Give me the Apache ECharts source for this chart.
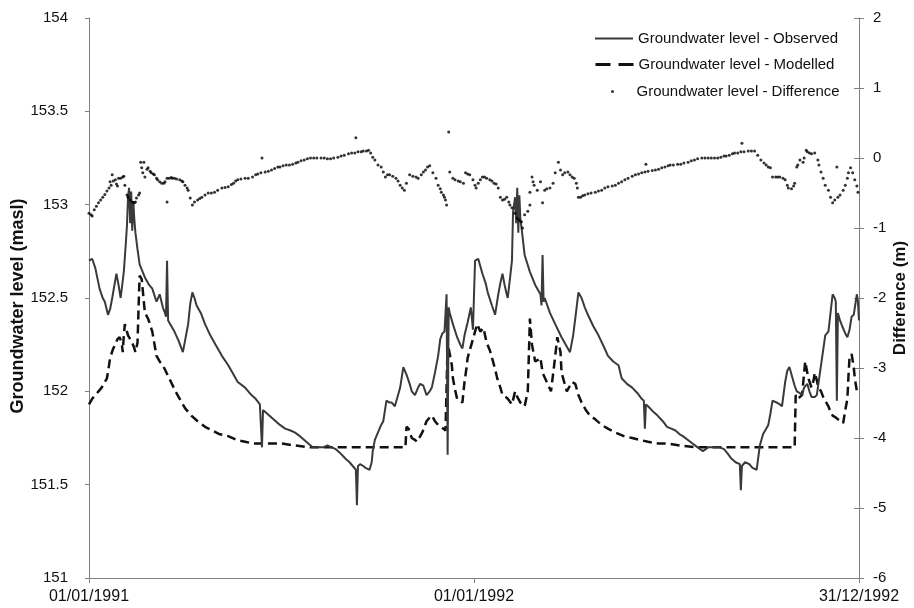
<!DOCTYPE html>
<html>
<head>
<meta charset="utf-8">
<script src="https://cdn.jsdelivr.net/npm/echarts@6/dist/echarts.min.js"></script>
<style>
  html, body { margin: 0; padding: 0; background: #ffffff; }
  #chart { width: 914px; height: 608px; }
</style>
</head>
<body>
<div id="chart"></div>
<script>
// Days are counted from 01/01/1991 (day 0) to 31/12/1992 (day 730).
const xTickDays = [0, 365, 730];
const xTickLabels = ['01/01/1991', '01/01/1992', '31/12/1992'];

// Observed groundwater level (masl)
const obsDay = [0,3,6,10,13,15,18,20,22,26,28,30,33,35,36,37,38,39,40,41,42,43,44,46,48,53,57,60,64,67,70,72,73,74,75,78,81,85,89,92,94,96,98,100,102,106,110,115,120,126,132,137,141,148,154,158,162,163,164,165,169,173,177,181,186,191,195,200,206,212,217,222,226,230,234,238,243,247,250,253,254,255,257,260,262,266,268,269,271,274,277,279,282,285,287,290,293,295,298,301,304,306,309,312,314,317,320,323,325,328,331,333,335,337,339,340,341,342,345,349,352,354,356,359,362,364,366,369,373,376,378,382,385,388,390,392,394,396,397,399,401,402,404,405,406,407,408,409,410,412,413,418,423,428,429,430,431,432,437,442,448,452,456,459,461,464,467,470,473,478,483,488,492,497,502,505,510,515,520,524,526,527,528,530,535,539,544,548,552,556,560,563,570,577,582,587,592,598,602,605,609,613,617,618,619,622,626,629,633,636,639,642,644,646,648,652,655,657,660,662,664,667,669,671,674,676,678,681,683,685,688,690,693,696,698,701,703,705,707,708,709,710,712,714,717,719,721,723,725,726,728,729,730];
const obsLevel = [152.70,152.71,152.66,152.55,152.50,152.48,152.41,152.44,152.50,152.63,152.57,152.50,152.64,152.80,152.89,153.04,153.09,152.90,153.07,152.86,153.02,152.92,152.85,152.76,152.68,152.61,152.57,152.55,152.48,152.52,152.45,152.42,152.40,152.70,152.38,152.35,152.32,152.27,152.21,152.30,152.36,152.47,152.53,152.50,152.46,152.42,152.36,152.30,152.25,152.19,152.14,152.09,152.05,152.02,151.98,151.96,151.93,151.92,151.70,151.90,151.88,151.86,151.84,151.82,151.80,151.79,151.78,151.76,151.73,151.70,151.70,151.70,151.71,151.70,151.69,151.67,151.64,151.62,151.60,151.58,151.39,151.60,151.61,151.60,151.59,151.58,151.62,151.68,151.74,151.78,151.82,151.84,151.95,151.94,151.94,151.92,151.98,152.02,152.13,152.09,152.04,152.00,151.98,152.02,152.04,152.03,151.98,152.00,152.02,152.10,152.19,152.28,152.31,152.32,152.52,151.66,152.45,152.42,152.36,152.29,152.25,152.23,152.30,152.37,152.45,152.33,152.70,152.71,152.63,152.58,152.53,152.46,152.41,152.52,152.58,152.63,152.57,152.52,152.50,152.60,152.70,152.96,153.04,152.90,153.09,152.85,153.05,152.92,152.88,152.78,152.73,152.64,152.57,152.52,152.46,152.73,152.48,152.50,152.42,152.36,152.29,152.25,152.21,152.30,152.39,152.53,152.50,152.45,152.41,152.35,152.30,152.24,152.19,152.16,152.14,152.07,152.04,152.02,151.99,151.96,151.95,151.80,151.93,151.92,151.89,151.87,151.84,151.81,151.80,151.79,151.77,151.76,151.73,151.70,151.68,151.70,151.70,151.70,151.69,151.67,151.64,151.62,151.61,151.47,151.60,151.62,151.61,151.59,151.58,151.71,151.77,151.80,151.82,151.88,151.95,151.94,151.93,151.92,152.05,152.11,152.13,152.07,152.03,152.00,151.99,151.98,152.02,152.04,152.00,151.97,151.97,151.98,152.10,152.22,152.30,152.32,152.42,152.52,152.50,152.48,151.95,152.42,152.38,152.35,152.31,152.29,152.33,152.40,152.41,152.42,152.52,152.48,152.38];

// Modelled groundwater level (masl)
const modDay = [0,3,6,9,12,15,17,19,20,23,25,27,29,31,32,33,34,36,37,39,41,43,44,46,47,48,50,51,53,56,60,64,67,70,76,82,86,91,97,103,110,117,124,132,140,148,156,164,173,183,195,210,240,270,300,301,303,306,309,311,314,316,318,320,323,325,328,331,333,336,338,339,340,342,344,345,347,349,352,354,356,358,359,361,363,366,368,371,374,377,380,382,385,387,390,392,395,397,401,404,406,409,413,416,418,420,423,426,428,430,434,438,441,444,447,448,451,453,456,458,461,464,467,471,475,480,486,492,499,507,515,522,530,540,549,560,575,600,630,669,670,672,674,676,678,679,681,682,685,687,688,690,691,694,696,699,701,703,705,708,710,713,715,717,719,720,721,723,724,725,726,728];
const modLevel = [151.93,151.96,151.98,152.00,152.02,152.05,152.07,152.14,152.18,152.23,152.25,152.28,152.29,152.26,152.21,152.30,152.36,152.32,152.30,152.28,152.26,152.23,152.21,152.26,152.45,152.62,152.60,152.59,152.42,152.39,152.32,152.19,152.16,152.14,152.07,152.00,151.96,151.91,151.87,151.84,151.81,151.79,151.77,151.76,151.74,151.73,151.72,151.72,151.72,151.72,151.71,151.70,151.70,151.70,151.70,151.81,151.80,151.75,151.74,151.73,151.76,151.78,151.81,151.84,151.86,151.87,151.84,151.82,151.81,151.80,151.79,151.78,152.26,152.20,152.14,152.07,152.01,151.96,151.95,151.94,152.05,152.13,152.18,152.22,152.26,152.32,152.36,152.32,152.34,152.26,152.22,152.18,152.12,152.07,152.02,151.98,151.97,151.96,151.93,152.00,151.97,151.94,151.92,152.00,152.39,152.25,152.16,152.17,152.18,152.10,152.05,152.00,152.14,152.29,152.21,152.10,152.04,152.00,152.03,152.05,152.04,151.98,151.94,151.90,151.87,151.85,151.82,151.80,151.78,151.76,151.75,151.74,151.73,151.72,151.72,151.71,151.70,151.70,151.70,151.70,151.98,151.96,151.97,151.98,152.10,152.16,152.10,152.07,152.02,152.06,152.10,152.06,152.03,152.00,151.97,151.94,151.92,151.89,151.87,151.86,151.85,151.84,151.83,151.90,151.96,152.08,152.18,152.20,152.19,152.13,152.07,152.00];

// Difference between modelled and observed level (m), right axis
const diffDay = [0,2,3,5,7,9,11,13,15,17,19,20,21,22,23,25,26,27,28,30,32,33,34,36,37,39,41,43,44,45,47,48,49,50,51,52,53,55,56,58,59,61,62,64,65,67,69,71,72,74,74,76,78,79,81,83,86,88,89,91,93,94,96,98,100,103,105,107,110,113,116,119,122,126,129,132,135,137,139,141,144,148,151,155,158,160,163,164,167,170,173,176,179,181,184,187,190,193,196,198,201,204,207,210,213,216,220,223,226,229,232,236,239,242,246,249,252,253,255,258,260,263,265,267,269,271,274,277,279,281,283,285,288,291,293,295,297,299,301,304,307,310,312,315,317,319,321,323,326,329,331,333,334,336,337,338,339,341,342,345,347,350,352,355,357,359,361,364,366,367,369,371,373,375,377,380,382,384,386,388,390,392,394,396,398,399,401,404,406,408,410,411,413,416,418,418,420,421,422,425,428,430,432,434,437,440,442,445,447,449,451,454,456,458,460,462,463,464,466,468,470,473,476,480,483,486,489,492,496,499,502,505,508,511,515,518,521,524,527,528,530,534,537,540,543,546,549,551,554,558,561,564,568,571,574,577,581,584,587,590,593,596,599,602,604,607,610,612,615,618,619,621,625,628,631,634,637,640,642,644,646,648,651,653,655,658,660,662,663,666,668,669,671,672,674,677,678,680,681,683,685,688,691,692,694,696,698,701,703,705,707,709,710,712,715,717,719,720,722,724,726,728,729];
const diffValue = [-0.79,-0.81,-0.83,-0.74,-0.69,-0.64,-0.60,-0.56,-0.52,-0.47,-0.43,-0.34,-0.39,-0.24,-0.33,-0.31,-0.37,-0.40,-0.29,-0.29,-0.27,-0.26,-0.39,-0.53,-0.56,-0.60,-0.63,-0.64,-0.63,-0.57,-0.53,-0.50,-0.06,-0.14,-0.21,-0.06,-0.27,-0.16,-0.14,-0.19,-0.21,-0.23,-0.24,-0.29,-0.31,-0.34,-0.36,-0.36,-0.34,-0.29,-0.63,-0.29,-0.28,-0.29,-0.29,-0.30,-0.31,-0.33,-0.34,-0.39,-0.43,-0.46,-0.57,-0.67,-0.63,-0.60,-0.58,-0.56,-0.53,-0.50,-0.50,-0.49,-0.46,-0.43,-0.42,-0.41,-0.38,-0.36,-0.33,-0.31,-0.30,-0.29,-0.29,-0.27,-0.24,-0.23,-0.21,0.00,-0.20,-0.19,-0.17,-0.15,-0.13,-0.13,-0.11,-0.10,-0.10,-0.09,-0.07,-0.06,-0.04,-0.03,-0.01,0.00,0.00,0.00,0.00,0.00,-0.01,-0.01,0.00,0.01,0.03,0.04,0.06,0.07,0.07,0.29,0.09,0.09,0.10,0.10,0.11,0.07,0.01,-0.03,-0.10,-0.13,-0.20,-0.27,-0.24,-0.24,-0.26,-0.29,-0.33,-0.39,-0.43,-0.46,-0.36,-0.24,-0.26,-0.27,-0.29,-0.24,-0.20,-0.17,-0.13,-0.11,-0.21,-0.29,-0.39,-0.44,-0.49,-0.53,-0.56,-0.60,-0.67,0.37,-0.20,-0.29,-0.31,-0.33,-0.34,-0.36,-0.21,-0.23,-0.24,-0.31,-0.39,-0.43,-0.36,-0.31,-0.27,-0.27,-0.29,-0.31,-0.33,-0.36,-0.37,-0.43,-0.56,-0.60,-0.59,-0.56,-0.63,-0.67,-0.71,-0.79,-0.86,-0.89,-0.91,-1.00,-0.81,-0.76,-0.67,-0.49,-0.27,-0.34,-0.39,-0.46,-0.34,-0.64,-0.46,-0.44,-0.43,-0.36,-0.21,-0.06,-0.17,-0.24,-0.21,-0.20,-0.24,-0.27,-0.29,-0.36,-0.43,-0.56,-0.56,-0.54,-0.53,-0.51,-0.50,-0.49,-0.47,-0.46,-0.43,-0.41,-0.40,-0.39,-0.36,-0.34,-0.31,-0.29,-0.26,-0.24,-0.23,-0.21,-0.20,-0.09,-0.19,-0.18,-0.17,-0.16,-0.14,-0.13,-0.11,-0.10,-0.10,-0.09,-0.09,-0.07,-0.06,-0.04,-0.03,-0.01,0.00,0.00,0.00,0.00,0.00,0.00,0.01,0.03,0.03,0.04,0.06,0.07,0.07,0.09,0.21,0.09,0.10,0.10,0.10,0.04,-0.03,-0.07,-0.10,-0.13,-0.14,-0.27,-0.27,-0.27,-0.27,-0.29,-0.31,-0.39,-0.43,-0.44,-0.40,-0.36,-0.13,-0.10,-0.03,-0.06,0.00,0.11,0.09,0.07,0.06,0.07,-0.03,-0.10,-0.20,-0.29,-0.39,-0.46,-0.56,-0.64,-0.60,-0.13,-0.56,-0.53,-0.46,-0.39,-0.29,-0.21,-0.14,-0.21,-0.31,-0.40,-0.49];

const seriesNames = ['Groundwater level - Observed', 'Groundwater level - Modelled', 'Groundwater level - Difference'];

const pairs = (xs, ys) => xs.map((x, i) => [x, ys[i]]);

const axisGray = '#808080';
const textDark = '#111111';
const fontFamily = '"Liberation Sans", Arial, sans-serif';

const chart = echarts.init(document.getElementById('chart'), null, { renderer: 'canvas' });

// Legend rows: line samples only, no marker on the line icons
const legendBase = {
  orient: 'vertical',
  padding: 0,
  itemWidth: 38,
  textStyle: { fontSize: 15, color: textDark, fontFamily: fontFamily },
  selectedMode: false
};
const hiddenMarker = { opacity: 0, borderWidth: 0, color: 'rgba(0,0,0,0)' };

chart.setOption({
  animation: false,
  backgroundColor: '#ffffff',
  textStyle: { fontFamily: fontFamily },
  grid: { left: 89, right: 55, top: 18, bottom: 30, containLabel: false, outerBoundsMode: 'none' },
  legend: [
    Object.assign({}, legendBase, { data: [seriesNames[0]], left: 594, top: 31, itemHeight: 14,
      itemStyle: hiddenMarker }),
    Object.assign({}, legendBase, { data: [seriesNames[1]], left: 594, top: 57, itemHeight: 14,
      itemStyle: hiddenMarker, lineStyle: { type: [15, 8], width: 3 } }),
    Object.assign({}, legendBase, { data: [seriesNames[2]], left: 611, top: 84, itemHeight: 3 })
  ],
  xAxis: {
    type: 'value',
    min: 0,
    max: 730,
    interval: 365,
    axisLine: { show: true, onZero: false, lineStyle: { color: axisGray, width: 1 } },
    axisTick: { show: true, length: 5, lineStyle: { color: axisGray } },
    axisLabel: {
      fontSize: 16, color: textDark, margin: 11, showMinLabel: true, showMaxLabel: true,
      formatter: (v) => { const k = xTickDays.indexOf(Math.round(v)); return k >= 0 ? xTickLabels[k] : ''; }
    },
    splitLine: { show: false }
  },
  yAxis: [
    {
      type: 'value', position: 'left', min: 151, max: 154, interval: 0.5,
      name: 'Groundwater level (masl)', nameLocation: 'middle', nameGap: 62, nameMoveOverlap: false,
      nameTextStyle: { fontSize: 18, fontWeight: 'bold', color: textDark, padding: [0, 16, 0, 0] },
      axisLine: { show: true, lineStyle: { color: axisGray, width: 1 } },
      axisTick: { show: true, length: 4, lineStyle: { color: axisGray } },
      axisLabel: { fontSize: 15, color: textDark, margin: 21 },
      splitLine: { show: false }
    },
    {
      type: 'value', position: 'right', min: -6, max: 2, interval: 1,
      name: 'Difference (m)', nameLocation: 'middle', nameGap: 33, nameMoveOverlap: false,
      nameTextStyle: { fontSize: 17, fontWeight: 'bold', color: textDark },
      axisLine: { show: true, lineStyle: { color: axisGray, width: 1 } },
      axisTick: { show: true, length: 5, lineStyle: { color: axisGray } },
      axisLabel: { fontSize: 15, color: textDark, margin: 14 },
      splitLine: { show: false }
    },
    {
      // inner half of the cross ticks on the right axis
      type: 'value', position: 'right', min: -6, max: 2, interval: 1,
      axisLine: { show: false },
      axisTick: { show: true, inside: true, length: 5, lineStyle: { color: axisGray } },
      axisLabel: { show: false },
      splitLine: { show: false }
    }
  ],
  series: [
    {
      name: seriesNames[0], type: 'line', yAxisIndex: 0,
      data: pairs(obsDay, obsLevel),
      showSymbol: false, symbol: 'none',
      lineStyle: { color: '#3a3a3a', width: 2 },
      itemStyle: { color: '#3a3a3a' },
      z: 3
    },
    {
      name: seriesNames[1], type: 'line', yAxisIndex: 0,
      data: pairs(modDay, modLevel),
      showSymbol: false, symbol: 'none',
      lineStyle: { color: '#111111', width: 2.5, type: [9, 5] },
      itemStyle: { color: '#111111' },
      z: 2
    },
    {
      name: seriesNames[2], type: 'scatter', yAxisIndex: 1,
      data: pairs(diffDay, diffValue),
      symbol: 'circle', symbolSize: 3,
      itemStyle: { color: '#000000' },
      z: 4
    }
  ]
});
</script>
</body>
</html>
